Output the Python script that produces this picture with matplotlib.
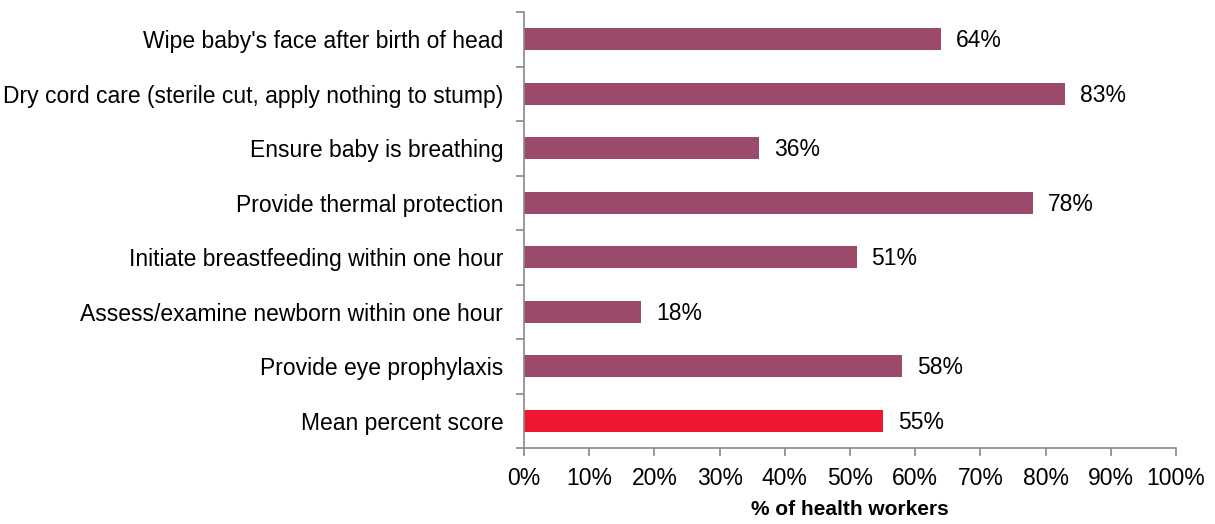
import matplotlib.pyplot as plt
from matplotlib.ticker import FixedLocator

categories = [
    "Wipe baby's face after birth of head",
    "Dry cord care (sterile cut, apply nothing to stump)",
    "Ensure baby is breathing",
    "Provide thermal protection",
    "Initiate breastfeeding within one hour",
    "Assess/examine newborn within one hour",
    "Provide eye prophylaxis",
    "Mean percent score",
]
values = [64, 83, 36, 78, 51, 18, 58, 55]
xticks = [0, 10, 20, 30, 40, 50, 60, 70, 80, 90, 100]

plt.rcParams['font.family'] = ['Liberation Sans', 'DejaVu Sans']

fig = plt.figure(figsize=(12.15, 5.24), dpi=100)
ax = fig.add_axes([524 / 1215, 1 - 448 / 524, (1176 - 524) / 1215, 436 / 524])

n = len(categories)
ypos = list(range(n))
colors = ['#9B4A6C'] * (n - 1) + ['#F01530']
ax.barh(ypos, values, height=0.4, color=colors)
ax.set_ylim(n - 0.5, -0.5)
ax.set_xlim(0, 100)

for y, v in zip(ypos, values):
    ax.text(v + 2.3, y + 0.03, f"{v}%", va='center', ha='left', fontsize=16.5)

ax.set_yticks(ypos)
ax.set_yticklabels(categories, fontsize=16.5)
ax.tick_params(axis='y', which='major', length=0, pad=15)
ax.yaxis.set_minor_locator(FixedLocator([i - 0.5 for i in range(n + 1)]))
ax.tick_params(axis='y', which='minor', length=6, color='#888888', width=1.2)

ax.set_xticks(xticks)
ax.set_xticklabels([f"{t}%" for t in xticks], fontsize=16.5)
ax.tick_params(axis='x', length=6, color='#888888', width=1.2, pad=8)
ax.set_xlabel("% of health workers", fontsize=15, fontweight='bold', labelpad=7)

for s in ['top', 'right']:
    ax.spines[s].set_visible(False)
for s in ['left', 'bottom']:
    ax.spines[s].set_color('#888888')
    ax.spines[s].set_linewidth(1.2)

fig.savefig('out.png', dpi=100)
